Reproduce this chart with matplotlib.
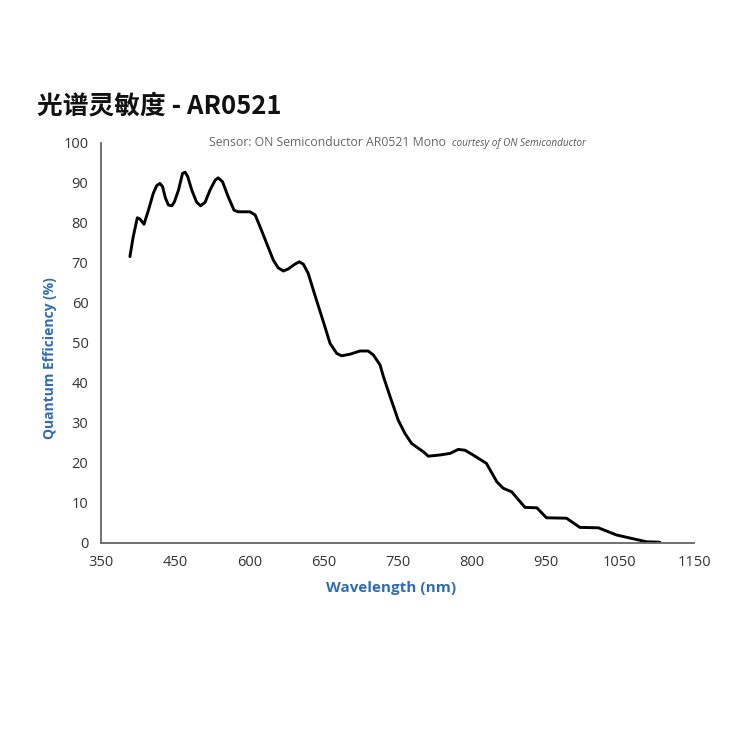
import matplotlib
matplotlib.use("Agg")
import matplotlib.pyplot as plt

# Data (wavelength positions on the chart's linear scale, QE %)
wavelength = [389, 393.5, 399, 402.5, 408, 414, 420.5, 425, 429.5, 433, 437, 441, 445.5,
              449, 454.5, 460, 463.5, 467, 472.5, 479, 484.5, 490.5, 497, 504, 508, 514,
              521.5, 529.5, 535, 551, 558, 564.5, 573.5, 582.5, 589, 596, 602.5, 611.5,
              617.5, 623, 629.5, 638.5, 650, 659, 668, 674.5, 686, 699.5, 710.5, 717.5,
              726.5, 731, 740, 751, 760, 769, 778, 785, 791.5, 807, 821, 832, 841, 852,
              870, 884, 892.5, 904, 922, 938, 951, 978, 996, 1021, 1045.5, 1086, 1104]
qe = [71.6, 76.6, 81.3, 81.0, 79.7, 83.2, 87.4, 89.3, 89.9, 89.1, 86.2, 84.5, 84.3,
      85.3, 88.2, 92.4, 92.7, 91.6, 88.2, 85.2, 84.3, 85.2, 88.2, 90.7, 91.3, 90.3,
      86.6, 83.2, 82.8, 82.8, 82.0, 79.1, 74.9, 70.7, 68.8, 68.0, 68.5, 69.7,
      70.3, 69.7, 67.4, 62.0, 55.3, 49.9, 47.4, 46.8, 47.2, 48.0, 48.0, 47.0,
      44.5, 41.6, 36.6, 30.7, 27.4, 24.9, 23.7, 22.8, 21.7, 22.0, 22.4, 23.4, 23.2, 22.0,
      19.9, 15.3, 13.7, 12.8, 8.9, 8.8, 6.3, 6.2, 3.9, 3.8, 2.0, 0.3, 0.2]

xtick_pos = [350, 450, 550, 650, 750, 850, 950, 1050, 1150]
xtick_labels = ["350", "450", "600", "650", "750", "800", "950", "1050", "1150"]
ytick_pos = [0, 10, 20, 30, 40, 50, 60, 70, 80, 90, 100]

plt.rcParams['font.family'] = ['Open Sans', 'Noto Sans CJK SC', 'DejaVu Sans']

blue = "#2E6DB4"
fig = plt.figure(figsize=(7.5, 7.5), dpi=100)
ax = fig.add_axes([101/750, 1 - 543/750, (694-101)/750, (543-143)/750])

ax.plot(wavelength, qe, color="black", linewidth=2.1, solid_joinstyle="round",
        solid_capstyle="round")

ax.set_xlim(350, 1150)
ax.set_ylim(0, 100)
ax.set_xticks(xtick_pos)
ax.set_xticklabels(xtick_labels)
ax.set_yticks(ytick_pos)
ax.tick_params(length=0, labelsize=10.5, colors="#333333")
ax.tick_params(axis="y", pad=9)
ax.tick_params(axis="x", pad=9)
for s in ["top", "right"]:
    ax.spines[s].set_visible(False)
for s in ["left", "bottom"]:
    ax.spines[s].set_color("#666666")
    ax.spines[s].set_linewidth(1.3)

ax.set_ylabel("Quantum Efficiency (%)", color=blue, fontweight="bold", fontsize=10,
              labelpad=8)
ax.yaxis.set_label_coords(-(101 - 50) / 593, (543 - 358) / 400)
ax.set_xlabel("Wavelength (nm)", color=blue, fontweight="bold", fontsize=11)
ax.xaxis.set_label_coords((391 - 101) / 593, -(588 - 543) / 400)
ax.xaxis.label.set_va("center")
ax.yaxis.label.set_va("center")

fig.text(37/750, 1 - 106/750, "光谱灵敏度 - AR0521",
         family=['Noto Sans CJK SC', 'DejaVu Sans'], fontsize=18.5, fontweight="bold",
         color="#111111", ha="left", va="center")
fig.text(209/750, 1 - 146/750, "Sensor: ON Semiconductor AR0521 Mono",
         fontsize=8.8, color="#666666", ha="left", va="baseline")
fig.text(452/750, 1 - 146/750, "courtesy of ON Semiconductor",
         fontsize=7.2, style="italic", color="#555555", ha="left", va="baseline")

fig.savefig("out.png", dpi=100, facecolor="white")
